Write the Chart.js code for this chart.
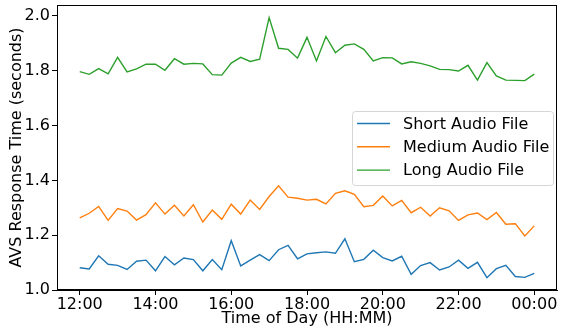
<!DOCTYPE html>
<html>
<head>
<meta charset="utf-8">
<script src="https://cdn.jsdelivr.net/npm/chart.js@4"></script>
<style>
  html, body { margin: 0; padding: 0; background: #fff; }
  #wrap { width: 561px; height: 328px; }
</style>
</head>
<body>
<div id="wrap"><canvas id="myChart" width="561" height="328"></canvas></div>
<script>
// time of each sample (15 min steps, 12:00 -> 00:00 next day)
const times = [
  "12:00", "12:15", "12:30", "12:45", "13:00", "13:15", "13:30", "13:45",
  "14:00", "14:15", "14:30", "14:45", "15:00", "15:15", "15:30", "15:45",
  "16:00", "16:15", "16:30", "16:45", "17:00", "17:15", "17:30", "17:45",
  "18:00", "18:15", "18:30", "18:45", "19:00", "19:15", "19:30", "19:45",
  "20:00", "20:15", "20:30", "20:45", "21:00", "21:15", "21:30", "21:45",
  "22:00", "22:15", "22:30", "22:45", "23:00", "23:15", "23:30", "23:45",
  "24:00",
];

const shortAudio = [
  1.081, 1.077, 1.125, 1.094, 1.090, 1.075, 1.105, 1.109,
  1.070, 1.122, 1.092, 1.117, 1.111, 1.070, 1.111, 1.074,
  1.180, 1.088, 1.109, 1.129, 1.107, 1.147, 1.163, 1.114,
  1.132, 1.136, 1.139, 1.134, 1.187, 1.103, 1.112, 1.145,
  1.118, 1.106, 1.123, 1.057, 1.089, 1.100, 1.073, 1.084,
  1.109, 1.079, 1.101, 1.045, 1.078, 1.090, 1.049, 1.046,
  1.061,
];

const mediumAudio = [
  1.263, 1.280, 1.305, 1.254, 1.297, 1.288, 1.255, 1.275,
  1.318, 1.277, 1.309, 1.270, 1.311, 1.248, 1.292, 1.258,
  1.313, 1.277, 1.328, 1.294, 1.341, 1.380, 1.339, 1.335,
  1.328, 1.331, 1.314, 1.353, 1.362, 1.349, 1.304, 1.309,
  1.343, 1.307, 1.327, 1.282, 1.302, 1.270, 1.300, 1.289,
  1.254, 1.274, 1.281, 1.257, 1.283, 1.240, 1.242, 1.197,
  1.234,
];

const longAudio = [
  1.797, 1.787, 1.808, 1.789, 1.849, 1.796, 1.807, 1.824,
  1.824, 1.802, 1.844, 1.824, 1.827, 1.825, 1.786, 1.784,
  1.828, 1.849, 1.834, 1.842, 1.994, 1.882, 1.878, 1.846,
  1.922, 1.836, 1.925, 1.866, 1.893, 1.898, 1.878, 1.836,
  1.848, 1.847, 1.825, 1.833, 1.827, 1.818, 1.805, 1.804,
  1.799, 1.820, 1.766, 1.830, 1.781, 1.766, 1.765, 1.764,
  1.788,
];

const xTickHours = [12, 14, 16, 18, 20, 22, 24];
const xTickLabels = ["12:00", "14:00", "16:00", "18:00", "20:00", "22:00", "00:00"];
const yTicks = [1.0, 1.2, 1.4, 1.6, 1.8, 2.0];

const FONT = "'DejaVu Sans', sans-serif";

function toHours(t) {
  const [h, m] = t.split(":").map(Number);
  return h + m / 60;
}

function points(ys) {
  return ys.map((y, i) => ({ x: toHours(times[i]), y: y }));
}

// matplotlib-like box around the axes
const framePlugin = {
  id: "frame",
  afterDraw(chart) {
    const { ctx, chartArea: a } = chart;
    ctx.save();
    ctx.strokeStyle = "#000";
    ctx.lineWidth = 1;
    ctx.strokeRect(a.left + 0.5, a.top + 0.5, a.right - a.left - 1, a.bottom - a.top - 1);
    ctx.restore();
  },
};

// legend placed inside the plot, right side
const legendPlugin = {
  id: "innerLegend",
  afterDatasetsDraw(chart) {
    const { ctx, chartArea: a } = chart;
    const w = 201, h = 74;
    const x0 = a.right - 4 - w;
    const y0 = a.top + 106;
    ctx.save();
    ctx.beginPath();
    ctx.roundRect(x0 + 0.5, y0 + 0.5, w, h, 3);
    ctx.fillStyle = "rgba(255,255,255,0.8)";
    ctx.fill();
    ctx.strokeStyle = "#d6d6d6";
    ctx.lineWidth = 1;
    ctx.stroke();
    ctx.font = "16px " + FONT;
    ctx.textBaseline = "middle";
    chart.data.datasets.forEach((ds, i) => {
      const y = y0 + 12.5 + i * 23.3;
      ctx.strokeStyle = ds.borderColor;
      ctx.lineWidth = 1.4;
      ctx.beginPath();
      ctx.moveTo(x0 + 5, y);
      ctx.lineTo(x0 + 38, y);
      ctx.stroke();
      ctx.fillStyle = "#000";
      ctx.fillText(ds.label, x0 + 51, y + 1);
    });
    ctx.restore();
  },
};

Chart.defaults.font.family = FONT;
Chart.defaults.font.size = 16;
Chart.defaults.color = "#000";

new Chart(document.getElementById("myChart"), {
  type: "line",
  data: {
    datasets: [
      { label: "Short Audio File", data: points(shortAudio), borderColor: "#1f77b4" },
      { label: "Medium Audio File", data: points(mediumAudio), borderColor: "#ff7f0e" },
      { label: "Long Audio File", data: points(longAudio), borderColor: "#2ca02c" },
    ],
  },
  options: {
    responsive: false,
    animation: false,
    layout: { padding: { top: 5, right: 4, left: 7, bottom: 0 } },
    elements: {
      point: { radius: 0 },
      line: { borderWidth: 1.4, tension: 0 },
    },
    plugins: {
      legend: { display: false },
      tooltip: { enabled: false },
    },
    scales: {
      x: {
        type: "linear",
        min: 11.4,
        max: 24.6,
        afterBuildTicks: (s) => { s.ticks = xTickHours.map((v) => ({ value: v })); },
        afterFit: (s) => { s.height = 38; s.paddingLeft = 0; s.paddingRight = 0; },
        ticks: {
          padding: 0,
          maxRotation: 0,
          callback: (v) => xTickLabels[xTickHours.indexOf(v)],
        },
        grid: { drawOnChartArea: false, tickLength: 5, color: "#000" },
        border: { color: "#000" },
        title: { display: true, text: "Time of Day (HH:MM)", padding: 0 },
      },
      y: {
        min: 1.0,
        max: 2.04,
        afterBuildTicks: (s) => { s.ticks = yTicks.map((v) => ({ value: v })); },
        afterFit: (s) => { s.width = 50; s.paddingTop = 0; s.paddingBottom = 0; },
        ticks: {
          padding: 2,
          callback: (v) => v.toFixed(1),
        },
        grid: { drawOnChartArea: false, tickLength: 5, color: "#000" },
        border: { color: "#000" },
        title: { display: true, text: "AVS Response Time (seconds)", padding: 0 },
      },
    },
  },
  plugins: [framePlugin, legendPlugin],
});
</script>
</body>
</html>
